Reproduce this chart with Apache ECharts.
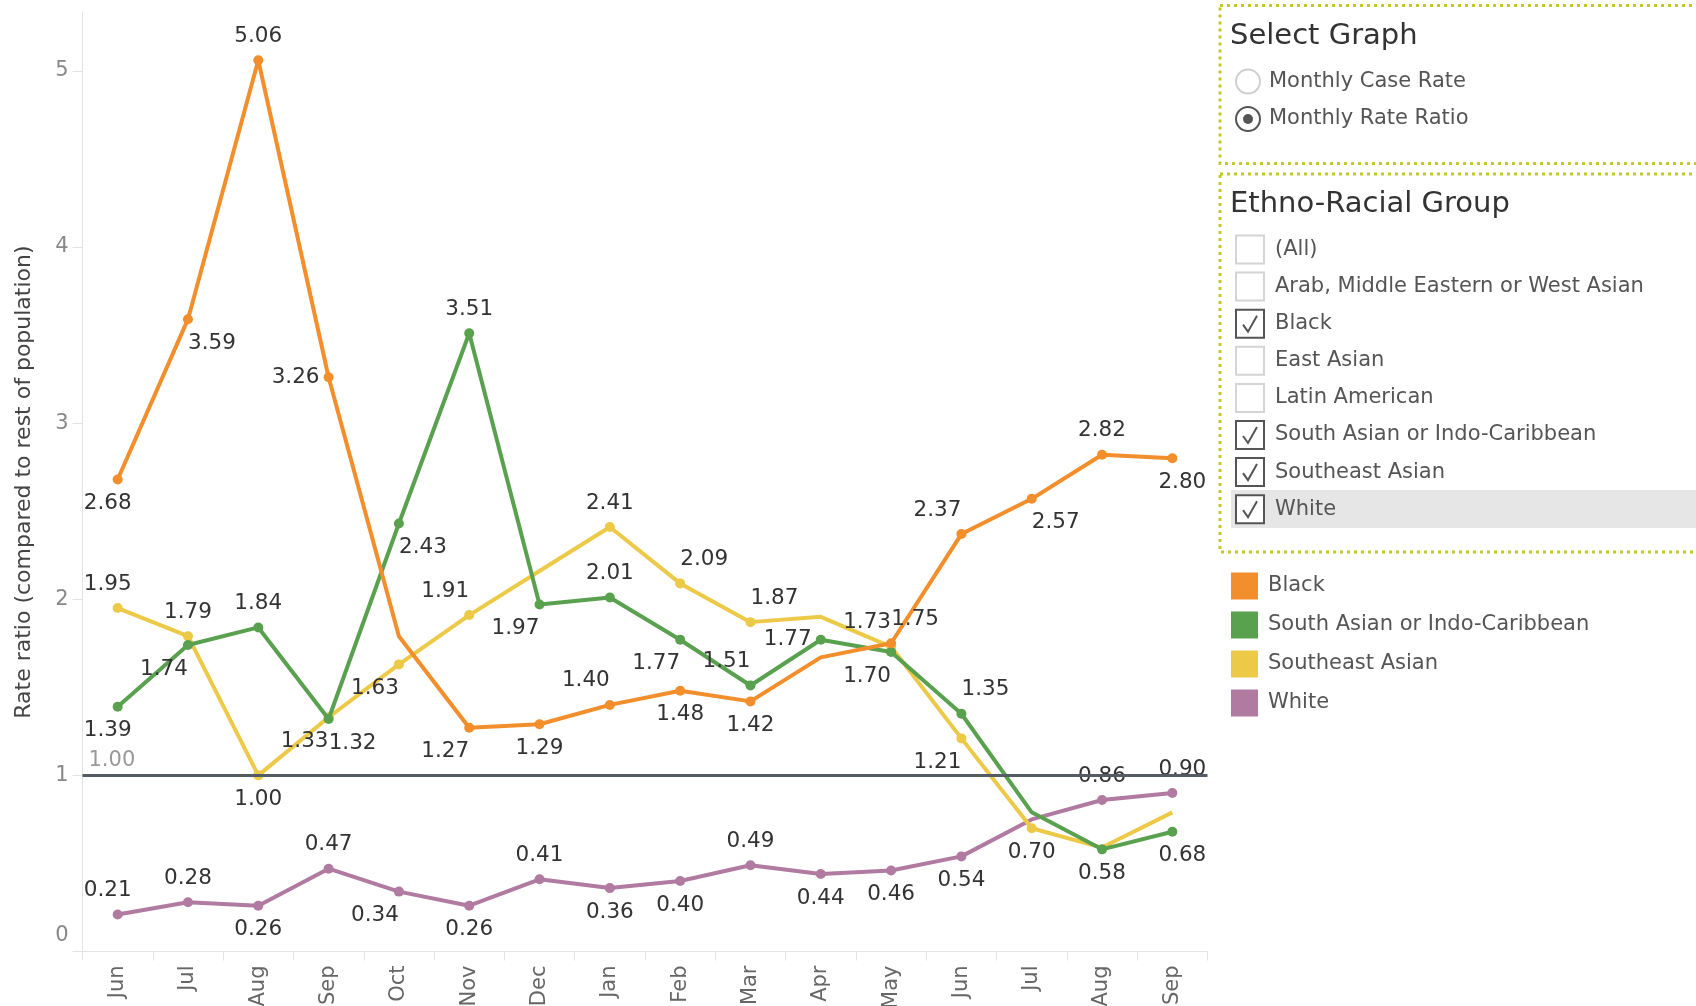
<!DOCTYPE html>
<html>
<head>
<meta charset="utf-8">
<title>Monthly Rate Ratio</title>
<script src="https://cdn.jsdelivr.net/npm/echarts@6/dist/echarts.min.js"></script>
<style>
  html, body { margin: 0; padding: 0; background: #fff; }
  #chart { width: 1696px; height: 1006px; }
</style>
</head>
<body>
<div id="chart"></div>
<script>
// data (Jun -> Sep of the following year)
const months = ['Jun', 'Jul', 'Aug', 'Sep', 'Oct', 'Nov', 'Dec', 'Jan', 'Feb', 'Mar', 'Apr', 'May', 'Jun', 'Jul', 'Aug', 'Sep'];
const black = [2.68, 3.59, 5.06, 3.26, 1.79, 1.27, 1.29, 1.40, 1.48, 1.42, 1.67, 1.75, 2.37, 2.57, 2.82, 2.80];
const southAsian = [1.39, 1.74, 1.84, 1.32, 2.43, 3.51, 1.97, 2.01, 1.77, 1.51, 1.77, 1.70, 1.35, 0.79, 0.58, 0.68];
const southeastAsian = [1.95, 1.79, 1.00, 1.33, 1.63, 1.91, 2.16, 2.41, 2.09, 1.87, 1.90, 1.73, 1.21, 0.70, 0.59, 0.79];
const white = [0.21, 0.28, 0.26, 0.47, 0.34, 0.26, 0.41, 0.36, 0.40, 0.49, 0.44, 0.46, 0.54, 0.75, 0.86, 0.90];
const yTicks = [0, 1, 2, 3, 4, 5];
const refValue = 1;

const graphOptions = ['Monthly Case Rate', 'Monthly Rate Ratio'];
const selectedGraph = 1;
const groupOptions = ['(All)', 'Arab, Middle Eastern or West Asian', 'Black', 'East Asian', 'Latin American',
  'South Asian or Indo-Caribbean', 'Southeast Asian', 'White'];
const groupChecked = [false, false, true, false, false, true, true, true];

// where each mark label sits relative to its point ('-' = no marker, no label)
const spots = {
  black:          ['B0','BR','T','L','-','BL','B','TL','B','B','-','TR','TL','BR','T','B9'],
  southAsian:     ['B0','BL','T','BR','BR','T','BL','T','BL','TL','L','BL','TR','-','B','B9'],
  southeastAsian: ['T0','T','B','BL','BL','TL','-','T','TR','TR','-','TL','BL','B','-','-'],
  white:          ['T0','T','B','T','BL','B','T','B','B','T','B','B','B','-','T','T9']
};
const offsets = {
  T: [0, -24], B: [0, 24], L: [-33, 0],
  TL: [-24, -24], TR: [24, -24], BL: [-24, 24], BR: [24, 24],
  T0: [-10, -24], B0: [-10, 24], T9: [10, -24], B9: [10, 24]
};

const FONT = '"DejaVu Sans", sans-serif';
const colors = {black: '#F28E2B', southAsian: '#59A14F', southeastAsian: '#EDC948', white: '#B07AA1'};

function points(values, key) {
  return values.map((v, i) => {
    const s = spots[key][i];
    if (s === '-') {
      return {value: v, symbol: 'none', label: {show: false}};
    }
    return {value: v, label: {show: true, offset: offsets[s]}};
  });
}

function lineSeries(name, key, values, z) {
  return {
    name: name,
    type: 'line',
    z: z,
    data: points(values, key),
    symbol: 'circle',
    symbolSize: 10,
    showAllSymbol: true,
    lineStyle: {color: colors[key], width: 4},
    itemStyle: {color: colors[key]},
    label: {
      position: 'inside',
      color: '#333',
      fontSize: 21.5,
      fontFamily: FONT,
      formatter: p => p.value.toFixed(2)
    },
    emphasis: {disabled: true}
  };
}

// filter panel on the right
function panel() {
  const g = [];
  const dotted = {fill: 'none', stroke: '#c4c82d', lineWidth: 3, lineDash: [3, 4]};
  g.push({type: 'rect', shape: {x: 1220, y: 5.5, width: 520, height: 158}, style: dotted});
  g.push({type: 'rect', shape: {x: 1220, y: 174, width: 520, height: 378}, style: dotted});

  const title = (t, y) => ({type: 'text', x: 1230, y: y,
    style: {text: t, fill: '#333', font: '29px ' + FONT, verticalAlign: 'middle', textVerticalAlign: 'middle'}});
  const item = (t, x, y) => ({type: 'text', x: x, y: y,
    style: {text: t, fill: '#555', font: '21px ' + FONT, verticalAlign: 'middle', textVerticalAlign: 'middle'}});

  g.push(title('Select Graph', 36));
  graphOptions.forEach((t, i) => {
    const cy = 81.5 + i * 37.5;
    const on = i === selectedGraph;
    g.push({type: 'circle', shape: {cx: 1248, cy: cy, r: 12},
      style: {fill: '#fff', stroke: on ? '#555' : '#cfcfcf', lineWidth: 2}});
    if (on) g.push({type: 'circle', shape: {cx: 1248, cy: cy, r: 5}, style: {fill: '#555'}});
    g.push(item(t, 1269, cy));
  });

  g.push(title('Ethno-Racial Group', 204));
  g.push({type: 'rect', shape: {x: 1231, y: 490, width: 470, height: 38}, style: {fill: '#e6e6e6'}});
  groupOptions.forEach((t, i) => {
    const cy = 249.5 + i * 37.1;
    const on = groupChecked[i];
    g.push({type: 'rect', shape: {x: 1236, y: cy - 14, width: 28, height: 28},
      style: {fill: '#fff', stroke: on ? '#555' : '#d4d4d4', lineWidth: 2}});
    if (on) {
      g.push({type: 'polyline', shape: {points: [[1243, cy + 1], [1248, cy + 8], [1257, cy - 8]]},
        style: {fill: 'none', stroke: '#555', lineWidth: 2}});
    }
    g.push(item(t, 1275, cy));
  });
  return g;
}

const chart = echarts.init(document.getElementById('chart'));
chart.setOption({
  animation: false,
  backgroundColor: '#fff',
  grid: {left: 82.5, right: 488.5, top: 12.7, bottom: 54.5, containLabel: false, outerBoundsMode: 'none'},
  legend: {
    data: ['Black', 'South Asian or Indo-Caribbean', 'Southeast Asian', 'White'],
    orient: 'vertical',
    left: 1226,
    top: 567.5,
    icon: 'rect',
    itemWidth: 27,
    itemHeight: 27,
    itemGap: 12,
    selectedMode: false,
    textStyle: {fontSize: 21, color: '#555', fontFamily: FONT, padding: [0, 0, 0, 5]}
  },
  xAxis: {
    type: 'category',
    data: months,
    boundaryGap: true,
    axisLine: {lineStyle: {color: '#e3e3e3', width: 1}},
    axisTick: {show: true, length: 9, lineStyle: {color: '#e3e3e3'}},
    axisLabel: {rotate: 90, interval: 0, margin: 14, fontSize: 21, color: '#666', fontFamily: FONT}
  },
  yAxis: {
    type: 'value',
    min: 0,
    max: 5.33,
    interval: 1,
    name: 'Rate ratio (compared to rest of population)',
    nameLocation: 'middle',
    nameGap: 47,
    nameTextStyle: {fontSize: 22, color: '#444', fontFamily: FONT},
    axisLine: {show: true, lineStyle: {color: '#e3e3e3', width: 1}},
    axisTick: {show: true, length: 10, lineStyle: {color: '#e3e3e3'}, customValues: yTicks},
    splitLine: {show: false},
    axisLabel: {
      customValues: yTicks,
      margin: 14,
      fontSize: 21,
      color: '#888',
      fontFamily: FONT,
      formatter: v => v === 0 ? '{lift|0}' : String(v),
      rich: {lift: {fontSize: 21, color: '#888', fontFamily: FONT, padding: [0, 0, 32, 0]}}
    }
  },
  series: [
    {
      name: 'ref',
      type: 'line',
      z: 1,
      data: [],
      markLine: {
        silent: true,
        symbol: 'none',
        lineStyle: {color: '#555b65', width: 3, type: 'solid'},
        label: {show: true, position: 'insideStartTop', distance: [6, 4], formatter: refValue.toFixed(2),
          color: '#999', fontSize: 21, fontFamily: FONT},
        data: [{yAxis: refValue}]
      }
    },
    lineSeries('Black', 'black', black, 5),
    lineSeries('South Asian or Indo-Caribbean', 'southAsian', southAsian, 4),
    lineSeries('Southeast Asian', 'southeastAsian', southeastAsian, 3),
    lineSeries('White', 'white', white, 2)
  ],
  graphic: panel()
});
</script>
</body>
</html>
